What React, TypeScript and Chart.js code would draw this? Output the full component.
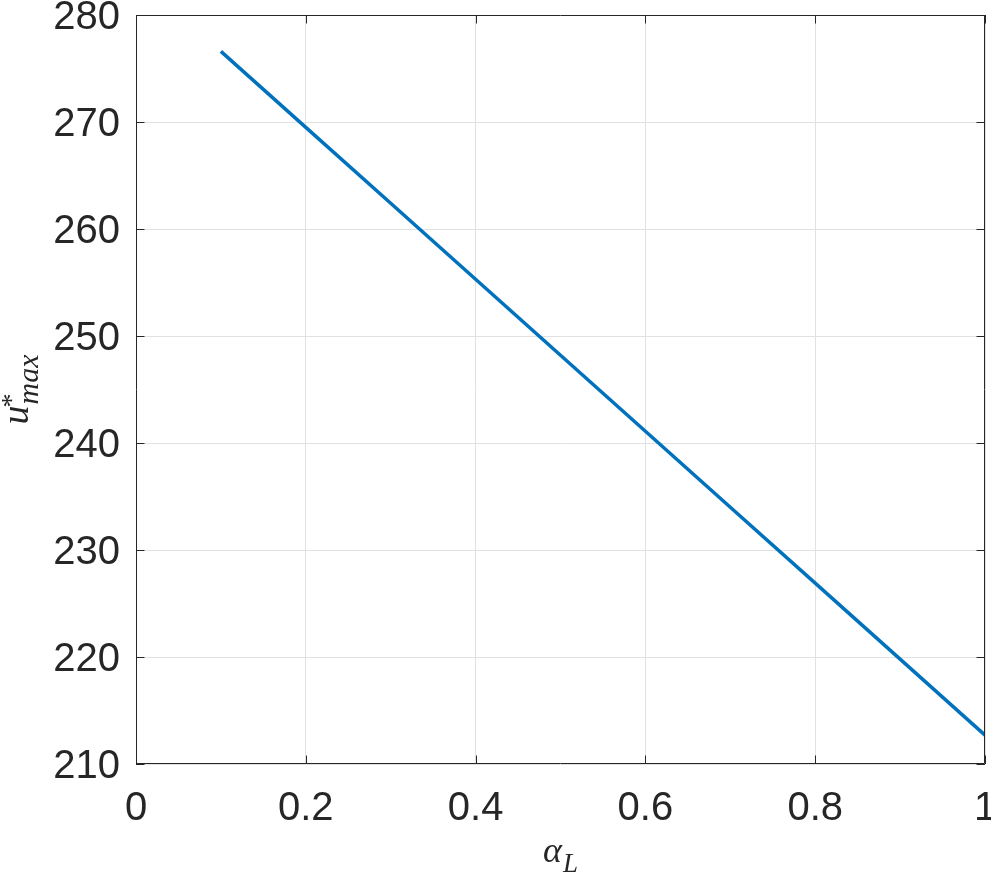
import React, { useEffect, useRef } from "react";
import { Chart, registerables } from "chart.js";

Chart.register(...registerables);

const alphaL = [0.1, 0.2, 0.3, 0.4, 0.5, 0.6, 0.7, 0.8, 0.9, 1.0];
const uMax = [276.6, 269.5, 262.4, 255.3, 248.2, 241.1, 234.0, 226.9, 219.8, 212.7];
const xTicks = [0, 0.2, 0.4, 0.6, 0.8, 1];
const yTicks = [210, 220, 230, 240, 250, 260, 270, 280];

const AXIS_COLOR = "#262626";
const GRID_COLOR = "#e1e1e1";
const LINE_COLOR = "#0072BD";
const TICK_FONT = '"Liberation Sans", Arial, Helvetica, sans-serif';
const SERIF = '"Liberation Serif", "DejaVu Serif", serif';

const boxPlugin = {
  id: "boxPlugin",
  afterDraw(chart: any) {
    const { ctx, chartArea } = chart;
    const { left, right, top, bottom } = chartArea;
    const xs = chart.scales.x;
    const ys = chart.scales.y;
    const tl = 8.5;
    ctx.save();
    ctx.strokeStyle = AXIS_COLOR;
    ctx.lineWidth = 1;
    ctx.beginPath();
    ctx.rect(Math.round(left) + 0.5, Math.round(top) + 0.5, Math.round(right - left) - 1, Math.round(bottom - top) - 1);
    ctx.stroke();
    ctx.beginPath();
    for (const v of xTicks) {
      const px = Math.round(xs.getPixelForValue(v)) + 0.5;
      ctx.moveTo(px, bottom);
      ctx.lineTo(px, bottom - tl);
      ctx.moveTo(px, top);
      ctx.lineTo(px, top + tl);
    }
    for (const v of yTicks) {
      const py = Math.round(ys.getPixelForValue(v)) + 0.5;
      ctx.moveTo(left, py);
      ctx.lineTo(left + tl, py);
      ctx.moveTo(right, py);
      ctx.lineTo(right - tl, py);
    }
    ctx.stroke();

    // axis titles
    ctx.fillStyle = AXIS_COLOR;
    ctx.textAlign = "left";
    ctx.textBaseline = "alphabetic";
    // x title: alpha_L
    ctx.font = `italic 36px ${SERIF}`;
    const a = "\u03B1";
    const aw = ctx.measureText(a).width;
    ctx.font = `italic 27px ${SERIF}`;
    const lw = ctx.measureText("L").width;
    const cx = (left + right) / 2;
    const startX = cx - (aw + 1 + lw) / 2;
    ctx.font = `italic 36px ${SERIF}`;
    ctx.fillText(a, startX, 862);
    ctx.font = `italic 27px ${SERIF}`;
    ctx.fillText("L", startX + aw + 1, 872);

    // y title: u^*_max
    ctx.save();
    const cy = (top + bottom) / 2;
    ctx.translate(28, cy);
    ctx.rotate(-Math.PI / 2);
    ctx.font = `italic 38px ${SERIF}`;
    const uw = ctx.measureText("u").width;
    ctx.font = `italic 30px ${SERIF}`;
    const mw = ctx.measureText("max").width;
    const total = uw + 1 + mw;
    const sx = -total / 2;
    ctx.font = `italic 38px ${SERIF}`;
    ctx.fillText("u", sx, 0);
    ctx.font = `italic 30px ${SERIF}`;
    ctx.fillText("max", sx + uw + 1, 10);
    ctx.font = `28px ${SERIF}`;
    ctx.fillText("*", sx + uw - 2, -8);
    ctx.restore();

    ctx.restore();
  },
};

export default function App() {
  const canvasRef = useRef<HTMLCanvasElement | null>(null);

  useEffect(() => {
    document.body.style.margin = "0";
    const canvas = canvasRef.current;
    if (!canvas) return;
    const chart = new Chart(canvas, {
      type: "line",
      data: {
        datasets: [
          {
            data: alphaL.map((x, i) => ({ x, y: uMax[i] })),
            borderColor: LINE_COLOR,
            backgroundColor: LINE_COLOR,
            borderWidth: 3.5,
            pointRadius: 0,
            tension: 0,
            fill: false,
          },
        ],
      },
      options: {
        animation: false,
        responsive: false,
        devicePixelRatio: 1,
        layout: { padding: { left: 0, top: 15, right: 6, bottom: 0 } },
        plugins: {
          legend: { display: false },
          tooltip: { enabled: false },
          title: { display: false },
        },
        scales: {
          x: {
            type: "linear",
            min: 0,
            max: 1,
            afterBuildTicks: (scale: any) => {
              scale.ticks = xTicks.map((v) => ({ value: v }));
            },
            afterFit: (scale: any) => {
              scale.height = 114;
              scale.paddingLeft = 0;
              scale.paddingRight = 0;
            },
            ticks: {
              autoSkip: false,
              maxRotation: 0,
              minRotation: 0,
              padding: 21,
              color: AXIS_COLOR,
              font: { family: TICK_FONT, size: 40 },
              callback: (v: any) => String(Number(Number(v).toFixed(1))),
            },
            grid: { color: GRID_COLOR, lineWidth: 1, drawTicks: false },
            border: { display: false },
          },
          y: {
            type: "linear",
            min: 210,
            max: 280,
            afterBuildTicks: (scale: any) => {
              scale.ticks = yTicks.map((v) => ({ value: v }));
            },
            afterFit: (scale: any) => {
              scale.width = 136;
              scale.paddingTop = 0;
              scale.paddingBottom = 0;
            },
            ticks: {
              autoSkip: false,
              padding: 16,
              labelOffset: 3,
              color: AXIS_COLOR,
              font: { family: TICK_FONT, size: 40 },
              callback: (v: any) => String(v),
            },
            grid: { color: GRID_COLOR, lineWidth: 1, drawTicks: false },
            border: { display: false },
          },
        },
      },
      plugins: [boxPlugin],
    });
    return () => chart.destroy();
  }, []);

  return (
    <div style={{ width: 991, height: 878 }}>
      <canvas ref={canvasRef} width={991} height={878} style={{ display: "block", width: 991, height: 878 }} />
    </div>
  );
}
